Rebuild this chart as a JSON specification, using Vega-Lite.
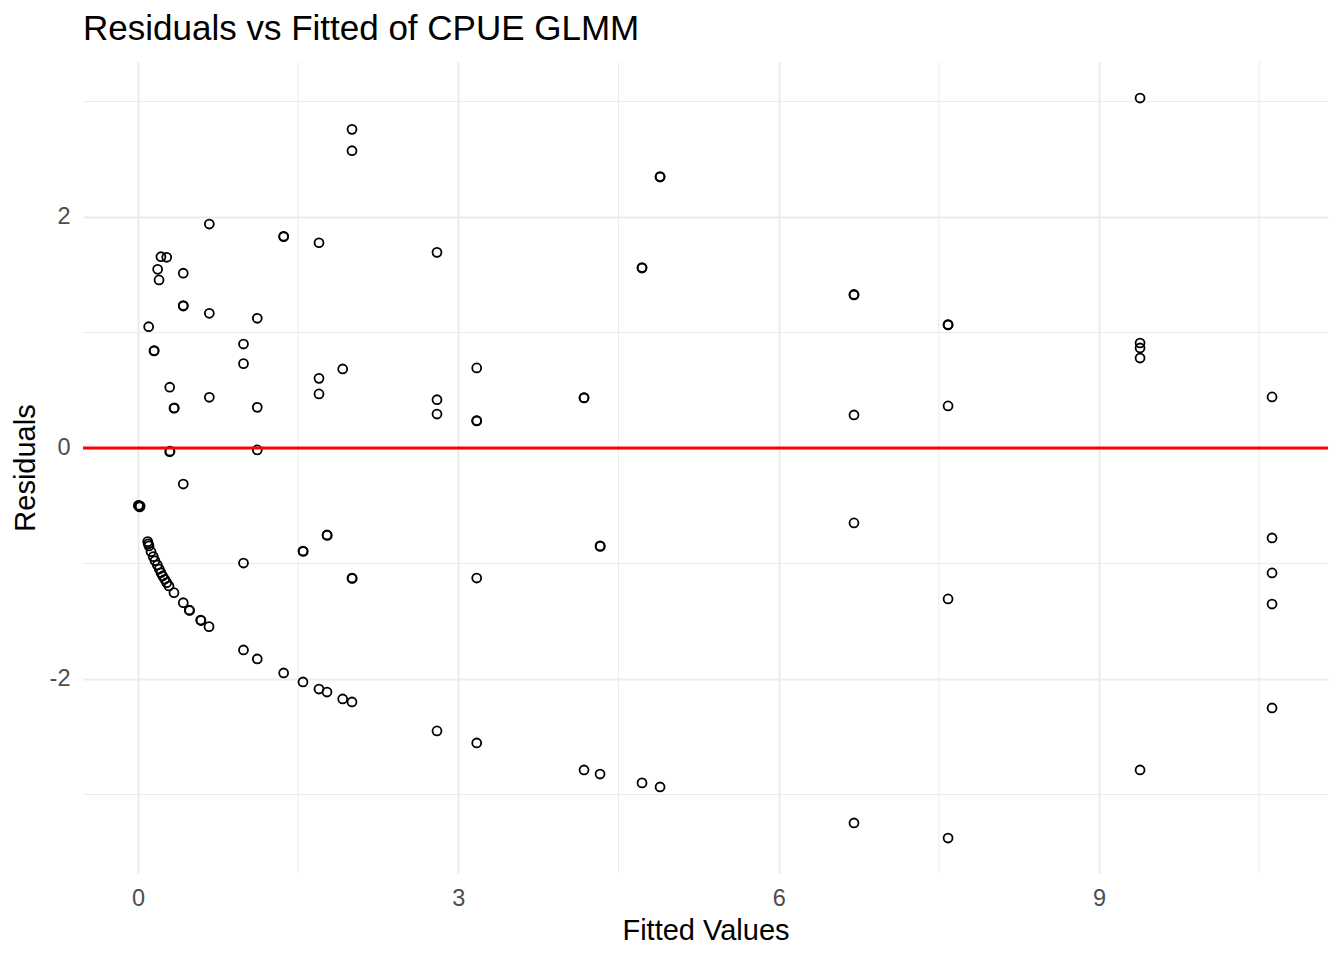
{
  "$schema": "https://vega.github.io/schema/vega-lite/v6.json",
  "width": 1245,
  "height": 811,
  "autosize": {"type": "none"},
  "padding": {"left": 83, "top": 62, "right": 16, "bottom": 87},
  "background": "white",
  "config": {
    "view": {"stroke": null},
    "font": "Liberation Sans"
  },
  "title": {
    "text": "Residuals vs Fitted of CPUE GLMM",
    "anchor": "start",
    "frame": "group",
    "font": "Liberation Sans",
    "fontSize": 35,
    "fontWeight": "normal",
    "color": "#000000",
    "baseline": "alphabetic",
    "offset": 22,
    "dy": 35
  },
  "datasets": {
    "pts": [
      {"fitted": 9.384, "resid": 3.03},
      {"fitted": 2.004, "resid": 2.759},
      {"fitted": 2.004, "resid": 2.574},
      {"fitted": 4.889, "resid": 2.346},
      {"fitted": 4.889, "resid": 2.35},
      {"fitted": 0.668, "resid": 1.939},
      {"fitted": 1.364, "resid": 1.829},
      {"fitted": 1.364, "resid": 1.833},
      {"fitted": 1.695, "resid": 1.777},
      {"fitted": 2.8, "resid": 1.694},
      {"fitted": 0.215, "resid": 1.656},
      {"fitted": 0.269, "resid": 1.651},
      {"fitted": 0.184, "resid": 1.547},
      {"fitted": 0.424, "resid": 1.513},
      {"fitted": 0.197, "resid": 1.455},
      {"fitted": 4.72, "resid": 1.558},
      {"fitted": 4.72, "resid": 1.562},
      {"fitted": 0.424, "resid": 1.229},
      {"fitted": 0.424, "resid": 1.233},
      {"fitted": 0.668, "resid": 1.166},
      {"fitted": 1.117, "resid": 1.123},
      {"fitted": 0.1, "resid": 1.05},
      {"fitted": 6.705, "resid": 1.325},
      {"fitted": 6.705, "resid": 1.329},
      {"fitted": 7.586, "resid": 1.065},
      {"fitted": 7.586, "resid": 1.069},
      {"fitted": 0.15, "resid": 0.84},
      {"fitted": 0.152, "resid": 0.843},
      {"fitted": 0.988, "resid": 0.9},
      {"fitted": 0.988, "resid": 0.73},
      {"fitted": 1.917, "resid": 0.684},
      {"fitted": 3.172, "resid": 0.693},
      {"fitted": 1.695, "resid": 0.603},
      {"fitted": 0.297, "resid": 0.526},
      {"fitted": 1.695, "resid": 0.468},
      {"fitted": 2.8, "resid": 0.418},
      {"fitted": 0.668, "resid": 0.439},
      {"fitted": 4.177, "resid": 0.433},
      {"fitted": 4.177, "resid": 0.436},
      {"fitted": 0.337, "resid": 0.344},
      {"fitted": 0.34, "resid": 0.347},
      {"fitted": 1.117, "resid": 0.352},
      {"fitted": 2.8, "resid": 0.294},
      {"fitted": 3.172, "resid": 0.234},
      {"fitted": 3.172, "resid": 0.237},
      {"fitted": 6.705, "resid": 0.286},
      {"fitted": 7.586, "resid": 0.364},
      {"fitted": 9.384, "resid": 0.909},
      {"fitted": 9.384, "resid": 0.866},
      {"fitted": 9.384, "resid": 0.779},
      {"fitted": 10.62, "resid": 0.442},
      {"fitted": 0.297, "resid": -0.032},
      {"fitted": 0.3, "resid": -0.028},
      {"fitted": 1.117, "resid": -0.017},
      {"fitted": 0.424, "resid": -0.312},
      {"fitted": 0.004, "resid": -0.497},
      {"fitted": 0.008, "resid": -0.5},
      {"fitted": 0.012, "resid": -0.505},
      {"fitted": 0.016, "resid": -0.51},
      {"fitted": 0.02, "resid": -0.502},
      {"fitted": 6.705, "resid": -0.649},
      {"fitted": 10.62, "resid": -0.779},
      {"fitted": 1.77, "resid": -0.753},
      {"fitted": 1.772, "resid": -0.757},
      {"fitted": 1.545, "resid": -0.892},
      {"fitted": 1.547, "resid": -0.896},
      {"fitted": 4.327, "resid": -0.848},
      {"fitted": 4.329, "resid": -0.852},
      {"fitted": 0.988, "resid": -0.996},
      {"fitted": 2.004, "resid": -1.126},
      {"fitted": 2.006, "resid": -1.13},
      {"fitted": 3.172, "resid": -1.126},
      {"fitted": 10.62, "resid": -1.082},
      {"fitted": 7.586, "resid": -1.307},
      {"fitted": 10.62, "resid": -1.351},
      {"fitted": 0.988, "resid": -1.749},
      {"fitted": 1.117, "resid": -1.827},
      {"fitted": 1.364, "resid": -1.948},
      {"fitted": 1.545, "resid": -2.026},
      {"fitted": 1.695, "resid": -2.087},
      {"fitted": 1.77, "resid": -2.113},
      {"fitted": 1.917, "resid": -2.173},
      {"fitted": 2.004, "resid": -2.199},
      {"fitted": 2.8, "resid": -2.45},
      {"fitted": 3.172, "resid": -2.554},
      {"fitted": 4.177, "resid": -2.788},
      {"fitted": 4.327, "resid": -2.823},
      {"fitted": 4.72, "resid": -2.9},
      {"fitted": 4.889, "resid": -2.935},
      {"fitted": 6.705, "resid": -3.247},
      {"fitted": 7.586, "resid": -3.377},
      {"fitted": 9.384, "resid": -2.788},
      {"fitted": 10.62, "resid": -2.251},
      {"fitted": 0.091, "resid": -0.811},
      {"fitted": 0.097, "resid": -0.83},
      {"fitted": 0.103, "resid": -0.848},
      {"fitted": 0.122, "resid": -0.898},
      {"fitted": 0.143, "resid": -0.941},
      {"fitted": 0.159, "resid": -0.976},
      {"fitted": 0.181, "resid": -1.013},
      {"fitted": 0.199, "resid": -1.048},
      {"fitted": 0.215, "resid": -1.08},
      {"fitted": 0.231, "resid": -1.108},
      {"fitted": 0.25, "resid": -1.137},
      {"fitted": 0.269, "resid": -1.166},
      {"fitted": 0.29, "resid": -1.195},
      {"fitted": 0.337, "resid": -1.253},
      {"fitted": 0.424, "resid": -1.34},
      {"fitted": 0.48, "resid": -1.403},
      {"fitted": 0.483, "resid": -1.407},
      {"fitted": 0.587, "resid": -1.49},
      {"fitted": 0.59, "resid": -1.494},
      {"fitted": 0.665, "resid": -1.547}
    ],
    "xminor": [{"v": 1.5}, {"v": 4.5}, {"v": 7.5}, {"v": 10.5}],
    "yminor": [{"v": -3}, {"v": -1}, {"v": 1}, {"v": 3}],
    "zero": [{"v": 0}]
  },
  "layer": [
    {
      "data": {"name": "xminor"},
      "mark": {"type": "rule", "color": "#EBEBEB", "strokeWidth": 1},
      "encoding": {
        "x": {
          "field": "v", "type": "quantitative",
          "scale": {"domain": [-0.515, 11.144], "nice": false, "zero": false},
          "axis": {
            "values": [0, 3, 6, 9], "labelExpr": "'' + datum.value",
            "grid": true, "gridColor": "#EBEBEB", "gridWidth": 2,
            "domain": false, "ticks": false,
            "labelFont": "Liberation Sans", "labelFontSize": 23.5, "labelColor": "#4D4D4D", "labelPadding": 13,
            "title": "Fitted Values", "titleFont": "Liberation Sans", "titleFontSize": 29, "titleFontWeight": "normal", "titleColor": "#000000", "titlePadding": 7
          }
        }
      }
    },
    {
      "data": {"name": "yminor"},
      "mark": {"type": "rule", "color": "#EBEBEB", "strokeWidth": 1},
      "encoding": {
        "y": {
          "field": "v", "type": "quantitative",
          "scale": {"domain": [-3.68, 3.342], "nice": false, "zero": false},
          "axis": {
            "values": [-2, 0, 2], "labelExpr": "'' + datum.value",
            "grid": true, "gridColor": "#EBEBEB", "gridWidth": 2,
            "domain": false, "ticks": false,
            "labelFont": "Liberation Sans", "labelFontSize": 23.5, "labelColor": "#4D4D4D", "labelPadding": 13,
            "title": "Residuals", "titleFont": "Liberation Sans", "titleFontSize": 29, "titleFontWeight": "normal", "titleColor": "#000000", "titlePadding": 9
          }
        }
      }
    },
    {
      "data": {"name": "pts"},
      "mark": {"type": "point", "shape": "circle", "filled": false, "stroke": "#000000", "strokeWidth": 1.8, "size": 80, "opacity": 1},
      "encoding": {
        "x": {
          "field": "fitted", "type": "quantitative",
          "scale": {"domain": [-0.515, 11.144], "nice": false, "zero": false},
          "axis": {
            "values": [0, 3, 6, 9], "labelExpr": "'' + datum.value",
            "grid": true, "gridColor": "#EBEBEB", "gridWidth": 2,
            "domain": false, "ticks": false,
            "labelFont": "Liberation Sans", "labelFontSize": 23.5, "labelColor": "#4D4D4D", "labelPadding": 13,
            "title": "Fitted Values", "titleFont": "Liberation Sans", "titleFontSize": 29, "titleFontWeight": "normal", "titleColor": "#000000", "titlePadding": 7
          }
        },
        "y": {
          "field": "resid", "type": "quantitative",
          "scale": {"domain": [-3.68, 3.342], "nice": false, "zero": false},
          "axis": {
            "values": [-2, 0, 2], "labelExpr": "'' + datum.value",
            "grid": true, "gridColor": "#EBEBEB", "gridWidth": 2,
            "domain": false, "ticks": false,
            "labelFont": "Liberation Sans", "labelFontSize": 23.5, "labelColor": "#4D4D4D", "labelPadding": 13,
            "title": "Residuals", "titleFont": "Liberation Sans", "titleFontSize": 29, "titleFontWeight": "normal", "titleColor": "#000000", "titlePadding": 9
          }
        }
      }
    },
    {
      "data": {"name": "zero"},
      "mark": {"type": "rule", "color": "#FF0000", "strokeWidth": 2.8},
      "encoding": {
        "y": {
          "field": "v", "type": "quantitative",
          "scale": {"domain": [-3.68, 3.342], "nice": false, "zero": false},
          "axis": {
            "values": [-2, 0, 2], "labelExpr": "'' + datum.value",
            "grid": true, "gridColor": "#EBEBEB", "gridWidth": 2,
            "domain": false, "ticks": false,
            "labelFont": "Liberation Sans", "labelFontSize": 23.5, "labelColor": "#4D4D4D", "labelPadding": 13,
            "title": "Residuals", "titleFont": "Liberation Sans", "titleFontSize": 29, "titleFontWeight": "normal", "titleColor": "#000000", "titlePadding": 9
          }
        }
      }
    }
  ]
}
